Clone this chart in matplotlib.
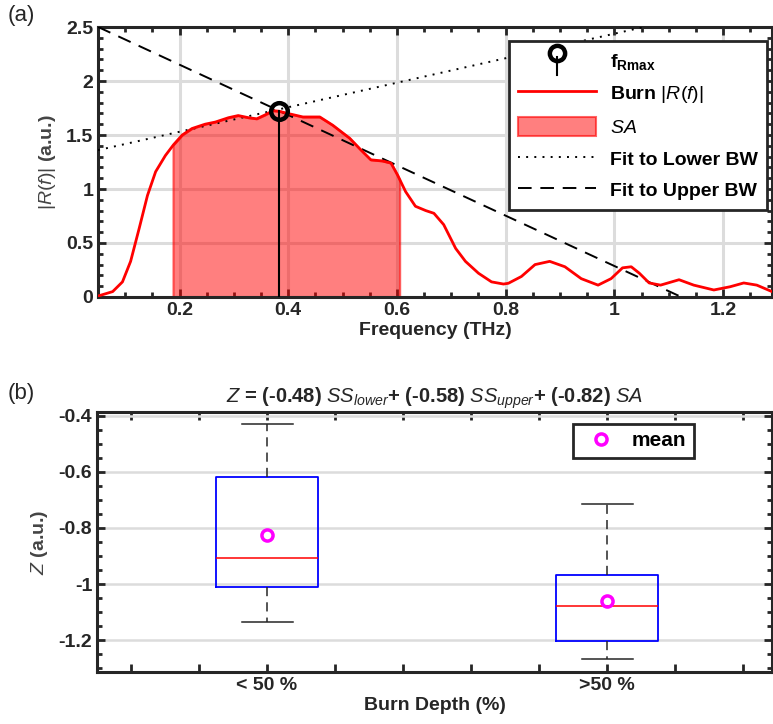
import numpy as np
import matplotlib
matplotlib.use("Agg")
import matplotlib.pyplot as plt
from matplotlib.lines import Line2D
from matplotlib.patches import Patch
from matplotlib.legend_handler import HandlerBase
from matplotlib.ticker import MultipleLocator, FixedLocator

plt.rcParams['font.family'] = ['Liberation Sans', 'DejaVu Sans']
plt.rcParams['mathtext.fontset'] = 'custom'
plt.rcParams['mathtext.rm'] = 'Liberation Sans'
plt.rcParams['mathtext.it'] = 'Liberation Sans:italic'
plt.rcParams['mathtext.bf'] = 'Liberation Sans:bold'

# ---- panel (a): spectrum ----
freq = [0.050, 0.052, 0.077, 0.095, 0.110, 0.126, 0.141, 0.156, 0.174, 0.189,
        0.205, 0.223, 0.247, 0.266, 0.290, 0.308, 0.327, 0.342, 0.357, 0.372,
        0.383, 0.403, 0.427, 0.458, 0.482, 0.513, 0.534, 0.552, 0.573, 0.589,
        0.601, 0.616, 0.634, 0.653, 0.668, 0.686, 0.708, 0.726, 0.750, 0.774,
        0.796, 0.805, 0.829, 0.854, 0.881, 0.909, 0.939, 0.970, 0.994, 1.015,
        1.031, 1.046, 1.064, 1.085, 1.119, 1.146, 1.183, 1.213, 1.238, 1.262,
        1.290]
burn_r = [0.010, 0.012, 0.050, 0.140, 0.330, 0.640, 0.940, 1.160, 1.310, 1.410,
          1.500, 1.560, 1.600, 1.620, 1.660, 1.680, 1.660, 1.650, 1.685, 1.725,
          1.720, 1.695, 1.667, 1.667, 1.590, 1.470, 1.360, 1.270, 1.260, 1.240,
          1.130, 0.975, 0.840, 0.800, 0.775, 0.670, 0.450, 0.330, 0.220, 0.140,
          0.120, 0.127, 0.190, 0.300, 0.330, 0.280, 0.170, 0.110, 0.170, 0.270,
          0.280, 0.220, 0.130, 0.110, 0.160, 0.110, 0.065, 0.095, 0.130, 0.110,
          0.050]
sa_low, sa_high = 0.188, 0.605
f_rmax, r_max = 0.383, 1.72
lower_fit = (1.135, 1.303)    # slope, intercept
upper_fit = (-2.33, 2.617)

# ---- panel (b): box statistics ----
groups = ['< 50 %', '>50 %']
q1 = [-1.010, -1.204]
med = [-0.908, -1.077]
q3 = [-0.617, -0.968]
whislo = [-1.135, -1.269]
whishi = [-0.429, -0.715]
means = [-0.825, -1.061]

dark = '#262626'
grid_c = '#dcdcdc'
fs = 14


class StemHandler(HandlerBase):
    def create_artists(self, legend, orig, xd, yd, w, h, fontsize, trans):
        cx = xd + w / 2
        stem = Line2D([cx, cx], [yd - 0.6 * h, yd + 0.4 * h], color='k', lw=1.5,
                      transform=trans)
        dot = Line2D([cx], [yd + 0.6 * h], marker='o', ms=11, mfc='none', mec='k',
                     mew=3.2, transform=trans)
        return [stem, dot]


def style_axes(ax):
    for s in ax.spines.values():
        s.set_linewidth(2.2)
        s.set_color(dark)
    ax.tick_params(which='both', direction='in', top=True, right=True,
                   colors=dark, labelsize=fs, width=2)
    ax.tick_params(which='major', length=6)
    ax.tick_params(which='minor', length=3.5)
    for lab in ax.get_xticklabels() + ax.get_yticklabels():
        lab.set_fontweight('bold')


fig = plt.figure(figsize=(7.73, 7.24), dpi=100)

# ---------------- (a) ----------------
ax1 = fig.add_axes([98 / 773, 1 - 297 / 724, 674 / 773, 270 / 724])
f_line = np.array([0.05, 1.29])
ax1.plot(f_line, lower_fit[0] * f_line + lower_fit[1], color='k', lw=1.4,
         ls=(0, (1, 3.2)), zorder=3)
ax1.plot(f_line, upper_fit[0] * f_line + upper_fit[1], color='k', lw=1.4,
         ls=(0, (7, 4.5)), zorder=3)
freq_a = np.array(freq)
burn_a = np.array(burn_r)
mask = (freq_a >= sa_low) & (freq_a <= sa_high)
fx = np.concatenate([[sa_low], freq_a[mask], [sa_high]])
fy = np.interp(fx, freq_a, burn_a)
ax1.fill_between(fx, 0, fy, facecolor=(1, 0, 0, 0.5), edgecolor=(1, 0, 0, 0.6),
                 lw=1.5, zorder=2)
ax1.plot(freq, burn_r, color='red', lw=2, zorder=4)
ax1.plot([f_rmax, f_rmax], [0, r_max], color='k', lw=1.5, zorder=5)
ax1.plot([f_rmax], [r_max], marker='o', ms=12, mfc='none', mec='k', mew=3.2,
         zorder=6)

ax1.set_xlim(0.05, 1.29)
ax1.set_ylim(0, 2.5)
ax1.xaxis.set_major_locator(FixedLocator([0.2, 0.4, 0.6, 0.8, 1.0, 1.2]))
ax1.set_xticklabels(['0.2', '0.4', '0.6', '0.8', '1', '1.2'])
ax1.xaxis.set_minor_locator(MultipleLocator(0.05))
ax1.set_yticks([0, 0.5, 1, 1.5, 2, 2.5])
ax1.set_yticklabels(['0', '0.5', '1', '1.5', '2', '2.5'])
ax1.yaxis.set_minor_locator(MultipleLocator(0.1))
ax1.grid(True, which='major', color=grid_c, lw=2.2)
ax1.set_axisbelow(True)
style_axes(ax1)
ax1.set_xlabel('Frequency (THz)', fontsize=fs, fontweight='bold', color=dark,
               labelpad=2)
ax1.set_ylabel('$|R(f)|$ (a.u.)', fontsize=fs, fontweight='bold', color='#444444',
               labelpad=6)

handles = [Line2D([], []), Line2D([], [], color='red', lw=2),
           Patch(facecolor=(1, 0, 0, 0.5), edgecolor=(1, 0, 0, 0.6), lw=1.5),
           Line2D([], [], color='k', lw=1.4, ls=(0, (1, 3.2))),
           Line2D([], [], color='k', lw=1.4, ls=(0, (7, 4.5)))]
labels = [r'f$_{\mathbf{Rmax}}$', r'Burn $|R(f)|$', '$SA$', 'Fit to Lower BW',
          'Fit to Upper BW']
leg = ax1.legend(handles, labels, loc='upper right', bbox_to_anchor=(0.993, 0.948),
                 borderaxespad=0, handler_map={handles[0]: StemHandler()},
                 handlelength=4.0, handleheight=1.1, labelspacing=0.6,
                 borderpad=0.5, handletextpad=0.7, fancybox=False, framealpha=1,
                 edgecolor=dark, prop={'weight': 'bold', 'size': fs})
leg.get_frame().set_linewidth(2)
leg.set_zorder(10)

fig.text(8 / 773, 1 - 16 / 724, '(a)', fontsize=16, va='center', color=dark)

# ---------------- (b) ----------------
ax2 = fig.add_axes([97 / 773, 1 - 672 / 724, 675 / 773, 260 / 724])
stats = []
for i in range(len(groups)):
    stats.append({'label': groups[i], 'q1': q1[i], 'med': med[i], 'q3': q3[i],
                  'whislo': whislo[i], 'whishi': whishi[i], 'mean': means[i]})
pos = [1, 2]
ax2.bxp(stats, positions=pos, widths=0.3, capwidths=0.15, showfliers=False,
        showmeans=False,
        boxprops=dict(color='blue', lw=1.3),
        medianprops=dict(color='red', lw=1.1),
        whiskerprops=dict(color=dark, lw=1.1, ls=(0, (6, 4))),
        capprops=dict(color=dark, lw=1.1))
ax2.plot(pos, means, ls='none', marker='o', ms=8, mfc='none', mec='magenta',
         mew=2.5, label='mean', zorder=5)
ax2.set_xlim(0.5, 2.485)
ax2.set_ylim(-1.314, -0.386)
ax2.xaxis.set_major_locator(FixedLocator(pos))
ax2.set_xticklabels(groups)
ax2.xaxis.set_minor_locator(FixedLocator([0.6, 0.8, 1.2, 1.4, 1.6, 1.8, 2.2, 2.4]))
ax2.set_yticks([-1.2, -1.0, -0.8, -0.6, -0.4])
ax2.set_yticklabels(['-1.2', '-1', '-0.8', '-0.6', '-0.4'])
ax2.yaxis.set_minor_locator(MultipleLocator(0.05))
ax2.yaxis.grid(True, which='major', color=grid_c, lw=1.8)
ax2.set_axisbelow(True)
style_axes(ax2)
ax2.tick_params(axis='x', which='minor', length=6)
ax2.set_xlabel('Burn Depth (%)', fontsize=fs, fontweight='bold', color=dark,
               labelpad=2)
ax2.set_ylabel('$Z$ (a.u.)', fontsize=fs, fontweight='bold', color='#444444',
               labelpad=6)
ax2.set_title(r'$Z$ = (-0.48) $SS_{lower}$+ (-0.58) $SS_{upper}$+ (-0.82) $SA$',
              fontsize=14.5, fontweight='bold', color=dark, pad=7)
leg2 = ax2.legend(loc='upper right', bbox_to_anchor=(0.884, 0.954),
                  borderaxespad=0, fancybox=False, framealpha=1, edgecolor=dark,
                  handlelength=2.0, borderpad=0.35, handletextpad=0.5,
                  prop={'weight': 'bold', 'size': 15})
leg2.get_frame().set_linewidth(2)

fig.text(8 / 773, 1 - 393 / 724, '(b)', fontsize=16, va='center', color=dark)

fig.savefig('out.png', dpi=100)
